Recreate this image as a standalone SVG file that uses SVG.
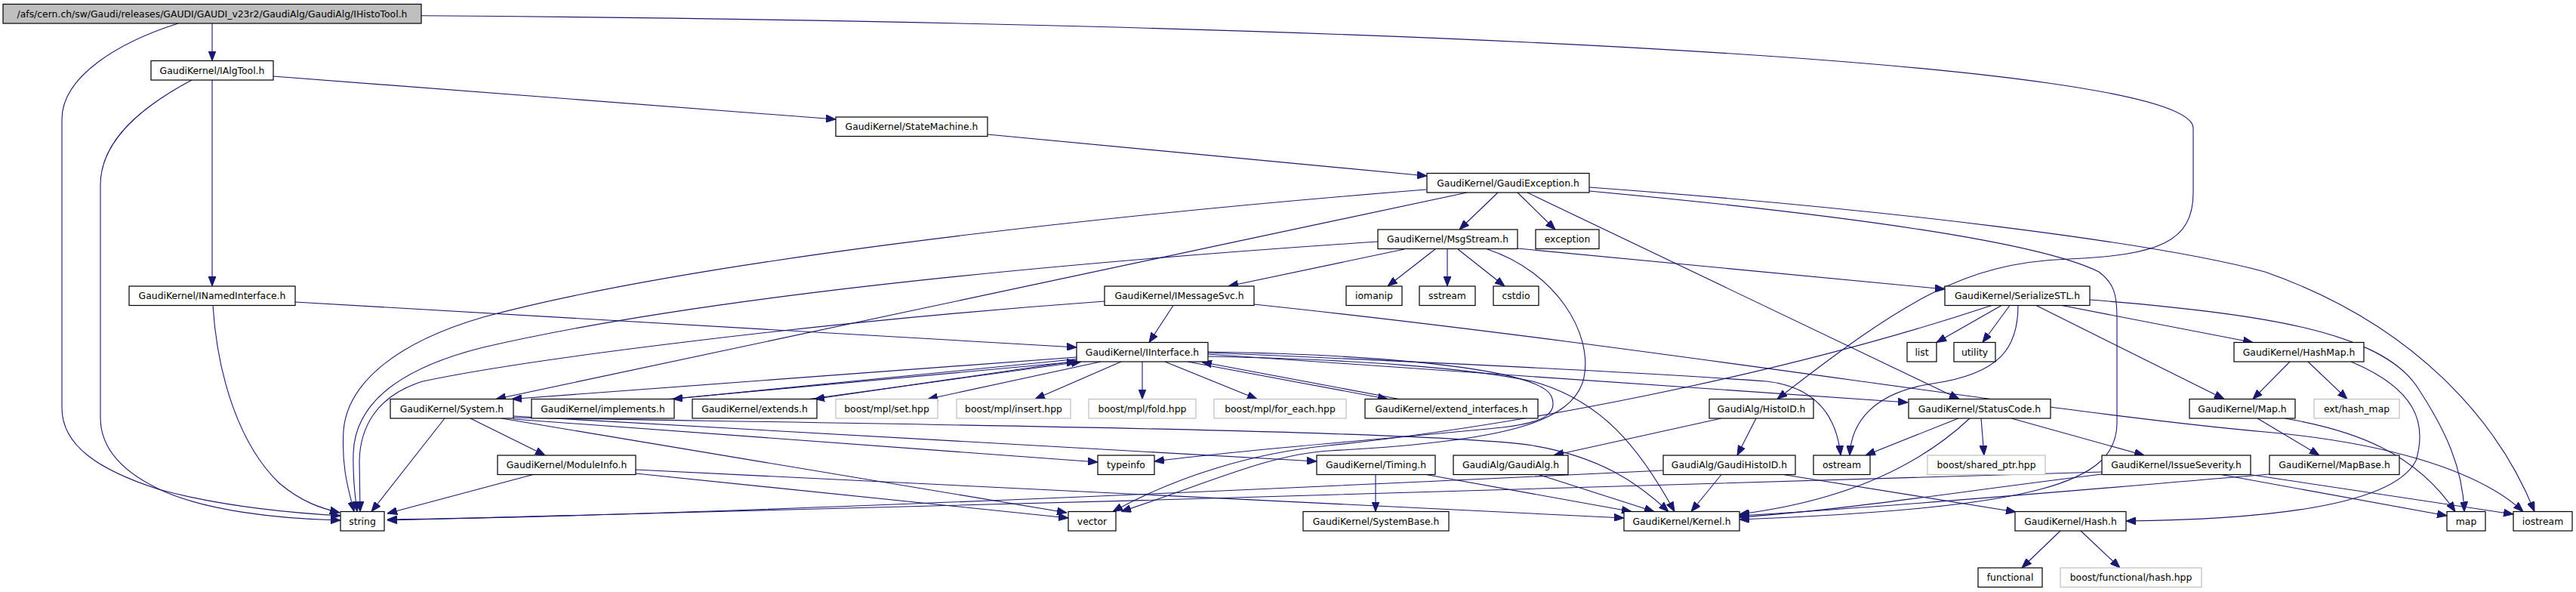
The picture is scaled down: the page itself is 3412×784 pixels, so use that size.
<svg xmlns="http://www.w3.org/2000/svg" width="3412" height="784" viewBox="0 0 3412 784">
<defs>
<marker id="ah" markerWidth="13" markerHeight="10" refX="13" refY="5" orient="auto" markerUnits="userSpaceOnUse">
<path d="M0,0 L13,5 L0,10 z" fill="#191970" stroke="#191970" stroke-width="1"/>
</marker>
<style>
.node rect{fill:#ffffff;stroke:#000000;stroke-width:1.2}
.node.ext rect{stroke:#bfbfbf}
.node.root rect{fill:#bfbfbf}
.node text{font-family:"DejaVu Sans","Liberation Sans",sans-serif;font-size:12.4px;fill:#000000;text-anchor:middle}
#edges path{fill:none;stroke:#191970;stroke-width:1.1;marker-end:url(#ah)}
</style>
</defs>
<rect x="0" y="0" width="3412" height="784" fill="#ffffff"/>
<g id="edges">
<path d="M281,31 L281,80.5"/>
<path d="M236,31 C160,55 82,100 82,158 L82,540 C82,590 130,622 210,648 C290,670 380,679 451,683"/>
<path d="M558,20.7 C1800,30 2905,80 2905,170 L2905,255 C2905,320 2860,338 2740,343 C2600,348 2520,400 2354,528.5"/>
<path d="M281,106 L281,379"/>
<path d="M362,101 L1107,158"/>
<path d="M254,106 C190,140 133,185 133,245 L133,553 C133,595 165,628 220,652 C275,675 360,687 451,689"/>
<path d="M391,400 L1426,460"/>
<path d="M282,404.5 C288,500 318,590 370,640 C400,665 425,673 450,679"/>
<path d="M1308,178 L1890,233"/>
<path d="M1984,255 L1933,304"/>
<path d="M2010,255 L2060,304"/>
<path d="M2023,255 L2595,528.5"/>
<path d="M2105,248 C2500,277 2850,320 3000,360 C3200,430 3310,560 3357,677.5"/>
<path d="M2105,253 C2450,285 2700,320 2780,360 C2800,375 2804,390 2804,420 L2804,560 C2804,640 2700,672 2304,688"/>
<path d="M1943,255 L657,528.5"/>
<path d="M1889,251 C1400,290 900,350 640,420 C520,455 460,510 455,570 C452,620 462,650 469,677.5"/>
<path d="M1860,330 L1627,379"/>
<path d="M1901,330 L1838,379"/>
<path d="M1917,329.5 L1917,379"/>
<path d="M1931,330 L1993,379"/>
<path d="M2010,329 L2576,383"/>
<path d="M1825,320 C1300,355 900,400 640,460 C520,490 470,540 468,600 C467,640 471,660 473,677.5"/>
<path d="M1970,330 C2060,360 2110,440 2098,500 C2085,560 1990,585 1760,597 C1680,602 1600,640 1485,677.5"/>
<path d="M1554,404.5 L1522,453.5"/>
<path d="M1463,399 C1100,425 700,475 560,505 C495,525 477,570 476,610 L477,677.5"/>
<path d="M1661,403 C2200,460 2700,545 3000,572 C3150,585 3280,620 3342,677.5"/>
<path d="M2651,404.5 L2565,453.5"/>
<path d="M2662,404.5 L2626,453.5"/>
<path d="M2673,404.5 C2673,460 2650,495 2560,508 C2480,520 2452,560 2450,603"/>
<path d="M2638,404.5 C2350,500 2000,565 1760,590 C1660,600 1560,630 1474,677.5"/>
<path d="M2731,404.5 L2984,453.5"/>
<path d="M2697,404.5 L2946,528.5"/>
<path d="M2768,397 C3000,415 3150,440 3200,510 C3240,570 3262,620 3264,677.5"/>
<path d="M1600,472 C1800,476 1950,488 2030,505 C2120,530 2170,590 2218,677.5"/>
<path d="M1426,473 L678,528.5"/>
<path d="M1600,469 L2527,533"/>
<path d="M1600,467 C1900,480 2200,495 2340,505 C2400,512 2432,545 2438,603"/>
<path d="M1458,479 L1229,528.5"/>
<path d="M1485,479 L1371,528.5"/>
<path d="M1513,479 L1513,528.5"/>
<path d="M1543,479 L1665,528.5"/>
<path d="M1426,475.5 L891,528.5"/>
<path d="M886,528.5 L1426,479"/>
<path d="M1426,478 L1079,528.5"/>
<path d="M1072,528.5 L1432,479"/>
<path d="M1573,479 L1838,528.5"/>
<path d="M1853,528.5 L1592,479.5"/>
<path d="M1600,466 C1850,470 2040,490 2055,525 C2065,550 2040,560 1990,566 C1800,585 1650,595 1529,611"/>
<path d="M680,553 C1200,562 1900,570 2030,590 C2120,605 2170,640 2210,677.5"/>
<path d="M623,554 L722,603"/>
<path d="M680,551 L1744,611"/>
<path d="M589,554 L492,677.5"/>
<path d="M664,554 L1413,679"/>
<path d="M680,555 L1454,612"/>
<path d="M842,622 L2151,686"/>
<path d="M706,628.5 L513,680"/>
<path d="M842,627 L1415,686"/>
<path d="M1889,628.5 L2161,677.5"/>
<path d="M1822,628.5 L1822,677.5"/>
<path d="M2280,554 L2058,603"/>
<path d="M2326,554 L2301,603"/>
<path d="M2038,628.5 L2191,677.5"/>
<path d="M2280,628.5 L2240,677.5"/>
<path d="M2203,623 C1700,647 900,684 513,688"/>
<path d="M2362,628.5 L2670,678"/>
<path d="M2594,554 L2471,603"/>
<path d="M2624,554 L2628,603"/>
<path d="M2664,554 L2840,603"/>
<path d="M2609,554 C2560,600 2470,660 2304,681"/>
<path d="M2942,628.5 L3241,683"/>
<path d="M2980,628.5 L3329,681"/>
<path d="M2784,628 C2600,650 2450,675 2304,685"/>
<path d="M2784,625 C2200,640 1200,675 513,689"/>
<path d="M3033,479 L2984,528.5"/>
<path d="M3057,479 L3109,528.5"/>
<path d="M3114,479 C3200,515 3215,560 3200,610 C3170,670 3000,688 2816,690"/>
<path d="M3026,554 C3120,570 3200,600 3252,677.5"/>
<path d="M2990,554 L3072,603"/>
<path d="M3006,628 C2800,645 2500,672 2304,683"/>
<path d="M2729,703 L2678,752"/>
<path d="M2756,703 L2808,752"/>
</g>
<g id="n_root" class="node root"><rect x="4" y="5.5" width="554" height="25.5"/><text x="281" y="22.5">/afs/cern.ch/sw/Gaudi/releases/GAUDI/GAUDI_v23r2/GaudiAlg/GaudiAlg/IHistoTool.h</text></g>
<g id="n_IAlgTool" class="node"><rect x="200" y="80.5" width="162" height="25.5"/><text x="281" y="97.5">GaudiKernel/IAlgTool.h</text></g>
<g id="n_StateMachine" class="node"><rect x="1107" y="155" width="201" height="25.5"/><text x="1207.5" y="172">GaudiKernel/StateMachine.h</text></g>
<g id="n_GaudiException" class="node"><rect x="1890" y="229.5" width="215" height="25.5"/><text x="1997.5" y="246.5">GaudiKernel/GaudiException.h</text></g>
<g id="n_MsgStream" class="node"><rect x="1825" y="304" width="185" height="25.5"/><text x="1917.5" y="321">GaudiKernel/MsgStream.h</text></g>
<g id="n_exception" class="node"><rect x="2034" y="304" width="84" height="25.5"/><text x="2076" y="321">exception</text></g>
<g id="n_INamedInterface" class="node"><rect x="171" y="379" width="220" height="25.5"/><text x="281" y="396">GaudiKernel/INamedInterface.h</text></g>
<g id="n_IMessageSvc" class="node"><rect x="1463" y="379" width="198" height="25.5"/><text x="1562" y="396">GaudiKernel/IMessageSvc.h</text></g>
<g id="n_iomanip" class="node"><rect x="1783" y="379" width="74" height="25.5"/><text x="1820" y="396">iomanip</text></g>
<g id="n_sstream" class="node"><rect x="1880" y="379" width="74" height="25.5"/><text x="1917" y="396">sstream</text></g>
<g id="n_cstdio" class="node"><rect x="1978" y="379" width="60" height="25.5"/><text x="2008" y="396">cstdio</text></g>
<g id="n_SerializeSTL" class="node"><rect x="2576" y="379" width="192" height="25.5"/><text x="2672" y="396">GaudiKernel/SerializeSTL.h</text></g>
<g id="n_IInterface" class="node"><rect x="1426" y="453.5" width="174" height="25.5"/><text x="1513" y="470.5">GaudiKernel/IInterface.h</text></g>
<g id="n_list" class="node"><rect x="2526" y="453.5" width="39" height="25.5"/><text x="2545.5" y="470.5">list</text></g>
<g id="n_utility" class="node"><rect x="2588" y="453.5" width="55" height="25.5"/><text x="2615.5" y="470.5">utility</text></g>
<g id="n_HashMap" class="node"><rect x="2959" y="453.5" width="172" height="25.5"/><text x="3045" y="470.5">GaudiKernel/HashMap.h</text></g>
<g id="n_System" class="node"><rect x="517" y="528.5" width="163" height="25.5"/><text x="598.5" y="545.5">GaudiKernel/System.h</text></g>
<g id="n_implements" class="node"><rect x="704" y="528.5" width="189" height="25.5"/><text x="798.5" y="545.5">GaudiKernel/implements.h</text></g>
<g id="n_extends" class="node"><rect x="917" y="528.5" width="165" height="25.5"/><text x="999.5" y="545.5">GaudiKernel/extends.h</text></g>
<g id="n_set" class="node ext"><rect x="1107" y="528.5" width="135" height="25.5"/><text x="1174.5" y="545.5">boost/mpl/set.hpp</text></g>
<g id="n_insert" class="node ext"><rect x="1267" y="528.5" width="151" height="25.5"/><text x="1342.5" y="545.5">boost/mpl/insert.hpp</text></g>
<g id="n_fold" class="node ext"><rect x="1442" y="528.5" width="142" height="25.5"/><text x="1513" y="545.5">boost/mpl/fold.hpp</text></g>
<g id="n_for_each" class="node ext"><rect x="1608" y="528.5" width="175" height="25.5"/><text x="1695.5" y="545.5">boost/mpl/for_each.hpp</text></g>
<g id="n_extend_interfaces" class="node"><rect x="1808" y="528.5" width="229" height="25.5"/><text x="1922.5" y="545.5">GaudiKernel/extend_interfaces.h</text></g>
<g id="n_HistoID" class="node"><rect x="2264" y="528.5" width="138" height="25.5"/><text x="2333" y="545.5">GaudiAlg/HistoID.h</text></g>
<g id="n_StatusCode" class="node"><rect x="2528" y="528.5" width="188" height="25.5"/><text x="2622" y="545.5">GaudiKernel/StatusCode.h</text></g>
<g id="n_Map" class="node"><rect x="2900" y="528.5" width="140" height="25.5"/><text x="2970" y="545.5">GaudiKernel/Map.h</text></g>
<g id="n_ext_hash_map" class="node ext"><rect x="3065" y="528.5" width="113" height="25.5"/><text x="3121.5" y="545.5">ext/hash_map</text></g>
<g id="n_ModuleInfo" class="node"><rect x="659" y="603" width="183" height="25.5"/><text x="750.5" y="620">GaudiKernel/ModuleInfo.h</text></g>
<g id="n_typeinfo" class="node"><rect x="1454" y="603" width="75" height="25.5"/><text x="1491.5" y="620">typeinfo</text></g>
<g id="n_Timing" class="node"><rect x="1744" y="603" width="157" height="25.5"/><text x="1822.5" y="620">GaudiKernel/Timing.h</text></g>
<g id="n_GaudiAlg" class="node"><rect x="1925" y="603" width="152" height="25.5"/><text x="2001" y="620">GaudiAlg/GaudiAlg.h</text></g>
<g id="n_GaudiHistoID" class="node"><rect x="2203" y="603" width="175" height="25.5"/><text x="2290.5" y="620">GaudiAlg/GaudiHistoID.h</text></g>
<g id="n_ostream" class="node"><rect x="2402" y="603" width="75" height="25.5"/><text x="2439.5" y="620">ostream</text></g>
<g id="n_shared_ptr" class="node ext"><rect x="2553" y="603" width="156" height="25.5"/><text x="2631" y="620">boost/shared_ptr.hpp</text></g>
<g id="n_IssueSeverity" class="node"><rect x="2784" y="603" width="197" height="25.5"/><text x="2882.5" y="620">GaudiKernel/IssueSeverity.h</text></g>
<g id="n_MapBase" class="node"><rect x="3006" y="603" width="172" height="25.5"/><text x="3092" y="620">GaudiKernel/MapBase.h</text></g>
<g id="n_string" class="node"><rect x="451" y="677.5" width="58" height="25.5"/><text x="480" y="694.5">string</text></g>
<g id="n_vector" class="node"><rect x="1415" y="677.5" width="63" height="25.5"/><text x="1446.5" y="694.5">vector</text></g>
<g id="n_SystemBase" class="node"><rect x="1726" y="677.5" width="193" height="25.5"/><text x="1822.5" y="694.5">GaudiKernel/SystemBase.h</text></g>
<g id="n_Kernel" class="node"><rect x="2151" y="677.5" width="153" height="25.5"/><text x="2227.5" y="694.5">GaudiKernel/Kernel.h</text></g>
<g id="n_Hash" class="node"><rect x="2669" y="677.5" width="147" height="25.5"/><text x="2742.5" y="694.5">GaudiKernel/Hash.h</text></g>
<g id="n_map" class="node"><rect x="3241" y="677.5" width="51" height="25.5"/><text x="3266.5" y="694.5">map</text></g>
<g id="n_iostream" class="node"><rect x="3329" y="677.5" width="78" height="25.5"/><text x="3368" y="694.5">iostream</text></g>
<g id="n_functional" class="node"><rect x="2620" y="752" width="85" height="25.5"/><text x="2662.5" y="769">functional</text></g>
<g id="n_hash_hpp" class="node ext"><rect x="2729" y="752" width="187" height="25.5"/><text x="2822.5" y="769">boost/functional/hash.hpp</text></g>
</svg>
